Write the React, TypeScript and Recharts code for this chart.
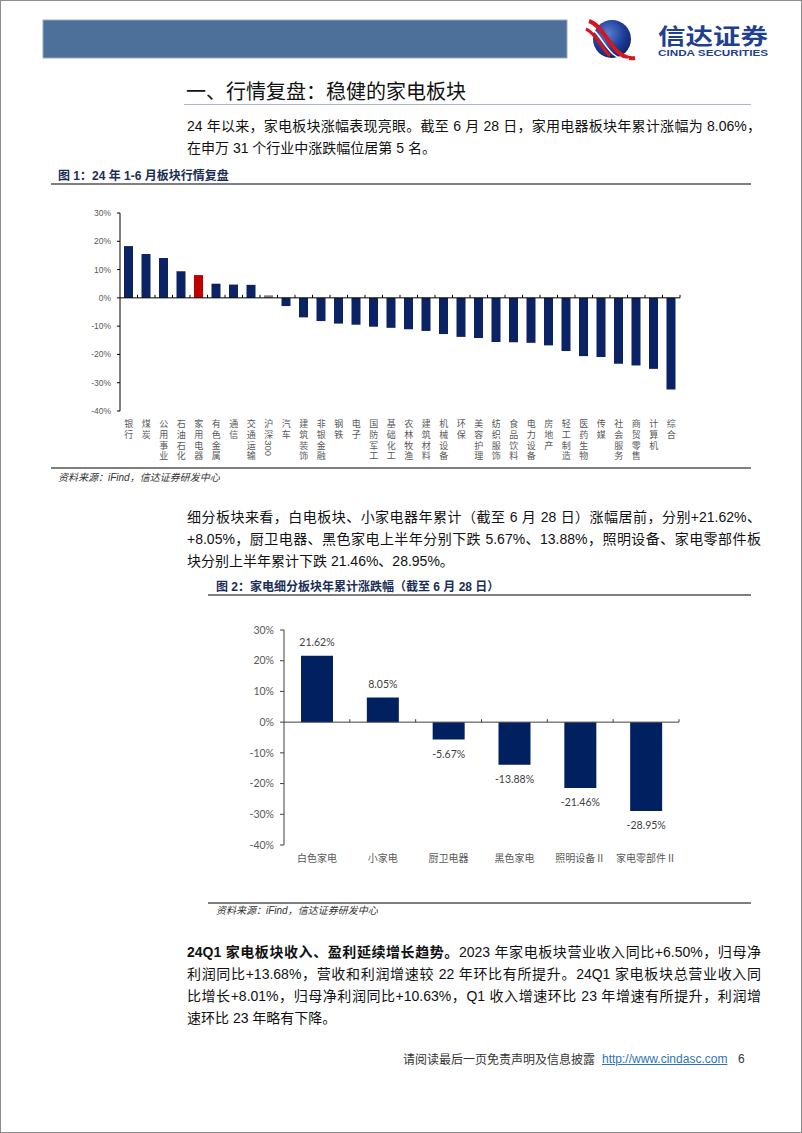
import React from 'react';
import { BarChart, Bar, XAxis, YAxis, Cell, ReferenceLine, LabelList } from 'recharts';

// ---------- Data ----------
const industries = ['银行', '煤炭', '公用事业', '石油石化', '家用电器', '有色金属', '通信', '交通运输', '沪深300', '汽车', '建筑装饰', '非银金融', '钢铁', '电子', '国防军工', '基础化工', '农林牧渔', '建筑材料', '机械设备', '环保', '美容护理', '纺织服饰', '食品饮料', '电力设备', '房地产', '轻工制造', '医药生物', '传媒', '社会服务', '商贸零售', '计算机', '综合'];
const industryReturns = [18.3, 15.5, 14.1, 9.4, 8.06, 5.0, 4.7, 4.6, 0.9, -2.9, -6.9, -8.2, -9.1, -9.5, -10.2, -10.6, -11.1, -11.7, -12.8, -13.8, -14.2, -15.6, -15.7, -15.9, -16.8, -18.8, -20.6, -20.9, -23.3, -23.9, -25.1, -32.4];
const highlightIndustry = '家用电器';
const benchmarkIndustry = '沪深300';
const yTicks1 = [30, 20, 10, 0, -10, -20, -30, -40];

const subSectors = ['白色家电', '小家电', '厨卫电器', '黑色家电', '照明设备Ⅱ', '家电零部件Ⅱ'];
const subReturns = [21.62, 8.05, -5.67, -13.88, -21.46, -28.95];
const yTicks2 = [30, 20, 10, 0, -10, -20, -30, -40];

const para1 = [
  '24 年以来，家电板块涨幅表现亮眼。截至 6 月 28 日，家用电器板块年累计涨幅为 8.06%，',
  '在申万 31 个行业中涨跌幅位居第 5 名。',
];
const para2 = [
  '细分板块来看，白电板块、小家电器年累计（截至 6 月 28 日）涨幅居前，分别+21.62%、',
  '+8.05%，厨卫电器、黑色家电上半年分别下跌 5.67%、13.88%，照明设备、家电零部件板',
  '块分别上半年累计下跌 21.46%、28.95%。',
];
const para3Bold = '24Q1 家电板块收入、盈利延续增长趋势。';
const para3 = [
  '2023 年家电板块营业收入同比+6.50%，归母净',
  '利润同比+13.68%，营收和利润增速较 22 年环比有所提升。24Q1 家电板块总营业收入同',
  '比增长+8.01%，归母净利润同比+10.63%，Q1 收入增速环比 23 年增速有所提升，利润增',
  '速环比 23 年略有下降。',
];

const data1 = industries.map((name, i) => ({ name, value: industryReturns[i] }));
const data2 = subSectors.map((name, i) => ({ name, value: subReturns[i] }));

// ---------- Styles ----------
const SANS = "'Liberation Sans', Arial, 'Noto Sans CJK SC', sans-serif";
const CJK = "'Noto Sans CJK SC', 'Liberation Sans', sans-serif";
const NAVY = '#0b2265';

const zeroLineShape = (n: number, tickLen: number, color: string) => (p: any) => {
  const xa = Math.min(p.x1, p.x2);
  const xb = Math.max(p.x1, p.x2);
  const y = p.y1;
  const step = (xb - xa) / n;
  const ticks = [];
  for (let i = 1; i <= n; i++) {
    const tx = xa + step * i;
    ticks.push(<line key={i} x1={tx} x2={tx} y1={y} y2={y - tickLen} stroke={color} strokeWidth={1} />);
  }
  return (
    <g>
      <line x1={xa} x2={xb} y1={y} y2={y} stroke={color} strokeWidth={1} />
      {ticks}
    </g>
  );
};

const VerticalTick = (props: any) => {
  const { x, y, payload } = props;
  const label: string = String(payload.value);
  const m = label.match(/^(.*?)(\d+)$/);
  const chars = Array.from(m ? m[1] : label);
  const step = 10.8;
  const first = y + 12.5;
  return (
    <g>
      {chars.map((c, i) => (
        <text key={i} x={x} y={first + i * step} textAnchor="middle" dominantBaseline="central" fontSize={9} fill="#595959" fontFamily={CJK}>
          {c}
        </text>
      ))}
      {m && (
        <text
          transform={`translate(${x}, ${first + chars.length * step - step / 2 + 0.5}) rotate(90)`}
          x={0}
          y={0}
          textAnchor="start"
          dominantBaseline="central"
          fontSize={9.5}
          fill="#595959"
          fontFamily={SANS}
        >
          {m[2]}
        </text>
      )}
    </g>
  );
};

const CatTick2 = (props: any) => {
  const { x, y, payload } = props;
  return (
    <text x={x} y={y + 12.5} textAnchor="middle" dominantBaseline="central" fontSize={10} fill="#595959" fontFamily={CJK}>
      {payload.value}
    </text>
  );
};

const ValueLabel2 = (props: any) => {
  const { x, y, width, height, value } = props;
  const top = Math.min(y, y + height);
  const bottom = Math.max(y, y + height);
  const cy = value >= 0 ? top - 13.5 : bottom + 14;
  return (
    <text x={x + width / 2} y={cy} textAnchor="middle" dominantBaseline="central" fontSize={10.5} fill="#404040" fontFamily="Lato, 'Open Sans', sans-serif">
      {value.toFixed(2)}%
    </text>
  );
};

const Chart1 = () => (
  <BarChart width={700} height={265} data={data1} margin={{ top: 12, right: 71, bottom: 5, left: 0 }}>
    <YAxis
      type="number"
      domain={[-40, 30]}
      ticks={yTicks1}
      interval={0}
      width={69}
      tickFormatter={(v: number) => `${v}%`}
      axisLine={{ stroke: '#000', strokeWidth: 1 }}
      tickLine={{ stroke: '#000', strokeWidth: 1 }}
      tickSize={3}
      tickMargin={6}
      tick={{ fontSize: 8.5, fill: '#595959', fontFamily: SANS }}
    />
    <XAxis dataKey="name" interval={0} axisLine={false} tickLine={false} tickSize={0} tickMargin={0} height={50} tick={<VerticalTick />} />
    <ReferenceLine y={0} shape={zeroLineShape(industries.length, 3, '#000')} />
    <Bar dataKey="value" barSize={9} isAnimationActive={false}>
      {data1.map((d) => (
        <Cell key={d.name} fill={d.name === highlightIndustry ? '#c00000' : d.name === benchmarkIndustry ? '#7f7f7f' : NAVY} />
      ))}
    </Bar>
  </BarChart>
);

const Chart2 = () => (
  <BarChart width={550} height={300} data={data2} margin={{ top: 29, right: 72, bottom: 16, left: 0 }}>
    <YAxis
      type="number"
      domain={[-40, 30]}
      ticks={yTicks2}
      interval={0}
      width={83}
      tickFormatter={(v: number) => `${v}%`}
      axisLine={{ stroke: '#404040', strokeWidth: 1 }}
      tickLine={{ stroke: '#404040', strokeWidth: 1 }}
      tickSize={4}
      tickMargin={6}
      tick={{ fontSize: 10.5, fill: '#595959', fontFamily: "Lato, 'Open Sans', sans-serif" }}
    />
    <XAxis dataKey="name" interval={0} axisLine={false} tickLine={false} tickSize={0} tickMargin={0} height={40} tick={<CatTick2 />} />
    <ReferenceLine y={0} shape={zeroLineShape(subSectors.length, 3, '#404040')} />
    <Bar dataKey="value" barSize={32} fill="#002060" isAnimationActive={false}>
      <LabelList dataKey="value" content={<ValueLabel2 />} />
    </Bar>
  </BarChart>
);

const Line = ({ x1, x2, y, color = '#7f7f7f', w = 1.5 }: any) => (
  <div style={{ position: 'absolute', left: x1, top: y - w / 2, width: x2 - x1, height: w, background: color }} />
);

const ParaLine = ({ text, y, full, bold }: any) => (
  <div
    style={{
      position: 'absolute',
      left: 186,
      top: y - 11,
      width: 574,
      height: 22,
      lineHeight: '22px',
      fontSize: 14,
      fontFamily: SANS,
      color: '#111',
      whiteSpace: 'nowrap',
      textAlign: 'justify',
      textAlignLast: full ? 'justify' : 'left',
    }}
  >
    {bold && <b>{bold}</b>}
    {text}
  </div>
);

const Header = () => (
  <svg width={802} height={70} style={{ position: 'absolute', left: 0, top: 0 }}>
    <defs>
      <radialGradient id="globe" cx="40%" cy="35%" r="70%">
        <stop offset="0%" stopColor="#5a7fd0" />
        <stop offset="60%" stopColor="#1d3d9a" />
        <stop offset="100%" stopColor="#0d2266" />
      </radialGradient>
    </defs>
    <rect x={42} y={19} width={524} height={38} fill="#4c7099" stroke="#93a9c4" strokeWidth={1} />
    <circle cx={611} cy={38} r={19} fill="url(#globe)" />
    <path d="M588,20 C600,24 606,40 616,50 C621,55 628,58 634,57" stroke="#d8141e" strokeWidth={4} fill="none" />
    <path d="M586,25 C597,29 602,44 612,53 C617,57 623,59 628,58" stroke="#ffffff" strokeWidth={1.6} fill="none" />
    <path d="M585,28 C595,32 600,47 609,55" stroke="#d8141e" strokeWidth={3} fill="none" />
    <text x={657} y={43} fontSize={22} fontWeight={700} fill="#1f3f8f" fontFamily={CJK} textLength={110} lengthAdjust="spacingAndGlyphs">
      信达证券
    </text>
    <text x={657} y={55} fontSize={9} fontWeight={700} fill="#1f3f8f" fontFamily={SANS} textLength={110} lengthAdjust="spacingAndGlyphs">
      CINDA SECURITIES
    </text>
  </svg>
);

const sourceStyle: React.CSSProperties = {
  position: 'absolute',
  fontSize: 10,
  fontStyle: 'italic',
  color: '#333',
  fontFamily: SANS,
  whiteSpace: 'nowrap',
  lineHeight: '14px',
};

const titleStyle: React.CSSProperties = {
  position: 'absolute',
  fontSize: 12,
  fontWeight: 700,
  color: '#1a2e55',
  fontFamily: SANS,
  whiteSpace: 'nowrap',
  lineHeight: '16px',
};

export default function App() {
  return (
    <div
      style={{
        position: 'absolute',
        left: 0,
        top: 0,
        width: 802,
        height: 1133,
        background: '#fff',
        boxSizing: 'border-box',
        border: '1px solid #8c8c8c',
        overflow: 'hidden',
      }}
    >
      <Header />

      <div style={{ position: 'absolute', left: 185, top: 78, fontSize: 20, lineHeight: '24px', fontFamily: CJK, color: '#111', whiteSpace: 'nowrap' }}>
        一、行情复盘：稳健的家电板块
      </div>
      <Line x1={183} x2={750} y={103} color="#aab6c8" w={1} />

      {para1.map((t, i) => (
        <ParaLine key={i} text={t} y={125 + i * 21.5} full={i < para1.length - 1} />
      ))}

      <div style={{ ...titleStyle, left: 57, top: 167 }}>图 1：24 年 1-6 月板块行情复盘</div>
      <Line x1={50} x2={750} y={183} />
      <div style={{ position: 'absolute', left: 50, top: 200 }}>
        <Chart1 />
      </div>
      <Line x1={50} x2={750} y={467} />
      <div style={{ ...sourceStyle, left: 57, top: 470 }}>资料来源：iFind，信达证券研发中心</div>

      {para2.map((t, i) => (
        <ParaLine key={i} text={t} y={516 + i * 22} full={i < para2.length - 1} />
      ))}

      <div style={{ ...titleStyle, left: 215, top: 578 }}>图 2：家电细分板块年累计涨跌幅（截至 6 月 28 日）</div>
      <Line x1={207} x2={750} y={594} />
      <div style={{ position: 'absolute', left: 200, top: 600 }}>
        <Chart2 />
      </div>
      <Line x1={207} x2={750} y={902} />
      <div style={{ ...sourceStyle, left: 215, top: 903 }}>资料来源：iFind，信达证券研发中心</div>

      {para3.map((t, i) => (
        <ParaLine key={i} text={t} y={951 + i * 22} full={i < para3.length - 1} bold={i === 0 ? para3Bold : undefined} />
      ))}

      <div style={{ position: 'absolute', left: 402, top: 1050, fontSize: 12, lineHeight: '16px', fontFamily: CJK, color: '#333', whiteSpace: 'nowrap' }}>
        请阅读最后一页免责声明及信息披露
      </div>
      <div style={{ position: 'absolute', left: 601, top: 1050, fontSize: 12, lineHeight: '16px', fontFamily: SANS, color: '#2e74b5', textDecoration: 'underline', whiteSpace: 'nowrap' }}>
        http://www.cindasc.com
      </div>
      <div style={{ position: 'absolute', left: 737, top: 1050, fontSize: 12, lineHeight: '16px', fontFamily: SANS, color: '#333' }}>6</div>
    </div>
  );
}
